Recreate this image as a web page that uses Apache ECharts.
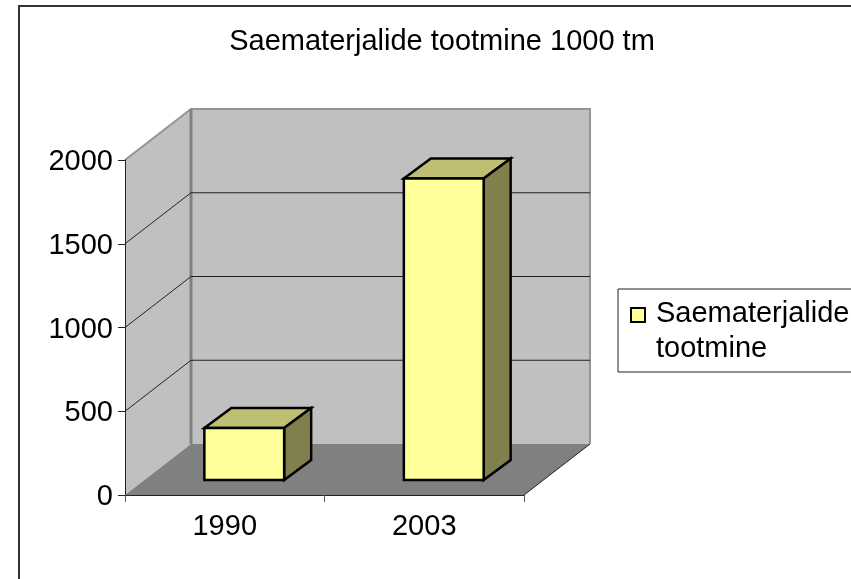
<!DOCTYPE html>
<html>
<head>
<meta charset="utf-8">
<style>
  html, body { margin: 0; padding: 0; background: #fff; }
  #main { width: 851px; height: 579px; }
</style>
<script src="https://cdn.jsdelivr.net/npm/echarts@6/dist/echarts.min.js"></script>
</head>
<body>
<div id="main"></div>
<script>
var categories = ["1990", "2003"];
var productionValues = [310, 1800];
var yTickValues = [500, 1000, 1500, 2000];
var seriesName = "Saematerjalide tootmine";
var chartTitle = "Saematerjalide tootmine 1000 tm";

// 3d look: depth of the whole box and of one bar, in pixels
var boxDepth = [66, -51];
var barShift = [19.5, -15];
var barDepth = [27, -20];
var fontName = '"Liberation Sans", Arial, sans-serif';

function poly(points, fill, stroke, lineWidth) {
  return {
    type: "polygon",
    shape: { points: points },
    style: { fill: fill, stroke: stroke || null, lineWidth: lineWidth || 0, lineJoin: "miter" },
  };
}

function line(points, stroke, lineWidth) {
  return {
    type: "polyline",
    shape: { points: points },
    style: { fill: null, stroke: stroke, lineWidth: lineWidth },
  };
}

// side wall, back wall and floor
function renderWalls(params, api) {
  var c = params.coordSys;
  var dx = boxDepth[0], dy = boxDepth[1];
  var l = c.x, r = c.x + c.width, t = c.y, b = c.y + c.height;
  return {
    type: "group",
    children: [
      poly([[l + dx, t + dy], [r + dx, t + dy], [r + dx, b + dy], [l + dx, b + dy]], "#C0C0C0"),
      poly([[l, t], [l + dx, t + dy], [l + dx, b + dy], [l, b]], "#C0C0C0"),
      poly([[l, b], [l + dx, b + dy], [r + dx, b + dy], [r, b]], "#808080"),
      line([[l, t], [l + dx, t + dy], [r + dx, t + dy], [r + dx, b + dy]], "#949494", 2),
      line([[l + dx, t + dy], [l + dx, b + dy]], "#808080", 3),
      line([[r + dx, b + dy], [r, b]], "#222", 1),
    ],
  };
}

function renderGridLine(params, api) {
  var c = params.coordSys;
  var y = api.coord([0, api.value(0)])[1];
  if (api.value(0) >= 2000) return null;
  return line(
    [[c.x, y], [c.x + boxDepth[0], y + boxDepth[1]], [c.x + c.width + boxDepth[0], y + boxDepth[1]]],
    "#222", 1
  );
}

function renderBar(params, api) {
  var top = api.coord([api.value(0), api.value(1)]);
  var bottom = api.coord([api.value(0), 0]);
  var w = api.size([1, 0])[0] * 0.4;
  var x0 = top[0] - w / 2 + barShift[0], x1 = x0 + w;
  var y0 = top[1] + barShift[1], y1 = bottom[1] + barShift[1];
  var dx = barDepth[0], dy = barDepth[1];
  return {
    type: "group",
    children: [
      poly([[x0, y0], [x0 + dx, y0 + dy], [x1 + dx, y0 + dy], [x1, y0]], "#BFBF73", "#000", 2.5),
      poly([[x1, y0], [x1 + dx, y0 + dy], [x1 + dx, y1 + dy], [x1, y1]], "#80804D", "#000", 2.5),
      poly([[x0, y0], [x1, y0], [x1, y1], [x0, y1]], "#FFFF99", "#000", 2.5),
    ],
  };
}

var chart = echarts.init(document.getElementById("main"));
chart.setOption({
  animation: false,
  backgroundColor: "#fff",
  textStyle: { fontFamily: fontName },
  title: {
    text: chartTitle,
    left: 437,
    top: 22,
    textAlign: "center",
    textStyle: { color: "#000", fontSize: 29, fontWeight: "normal", fontFamily: fontName },
  },
  graphic: [
    {
      type: "rect",
      z: -1,
      shape: { x: 19, y: 6, width: 900, height: 700 },
      style: { fill: "none", stroke: "#333", lineWidth: 2 },
    },
  ],
  legend: {
    left: 618,
    top: 289,
    orient: "vertical",
    padding: [7, 14, 6, 12],
    backgroundColor: "#fff",
    borderColor: "#222",
    borderWidth: 1,
    borderRadius: 0,
    itemWidth: 20,
    itemHeight: 46,
    itemGap: 0,
    data: [
      {
        name: seriesName,
        icon: "path://M0 0H14V14H0Z M20 46H20",
        itemStyle: { color: "#FFFF99", borderColor: "#000", borderWidth: 2 },
      },
    ],
    formatter: function () {
      return "Saematerjalide\ntootmine";
    },
    textStyle: { color: "#000", fontSize: 29, lineHeight: 35, fontFamily: fontName },
  },
  grid: { left: 125, right: 327, top: 160, bottom: 84 },
  xAxis: {
    type: "category",
    data: categories,
    axisLine: { lineStyle: { color: "#222", width: 1 } },
    axisTick: { show: true, length: 7, lineStyle: { color: "#555", width: 1 } },
    axisLabel: { color: "#000", fontSize: 29, margin: 17, fontFamily: fontName },
    splitLine: { show: false },
  },
  yAxis: {
    type: "value",
    min: 0,
    max: 2000,
    interval: 500,
    axisLine: { show: true, lineStyle: { color: "#222", width: 1 } },
    axisTick: { show: true, length: 7, lineStyle: { color: "#222", width: 1 } },
    axisLabel: {
      margin: 12,
      formatter: function (v) { return "{n|" + v + "}"; },
      rich: {
        n: { color: "#000", fontSize: 29, fontFamily: fontName, padding: [4, 0, 0, 0] },
      },
    },
    splitLine: { show: false },
  },
  series: [
    {
      name: "walls",
      type: "custom",
      z: 0,
      silent: true,
      clip: false,
      renderItem: renderWalls,
      data: [[0]],
      encode: { x: 0 },
    },
    {
      name: "gridlines",
      type: "custom",
      z: 1,
      silent: true,
      clip: false,
      renderItem: renderGridLine,
      data: yTickValues.map(function (v) { return [v]; }),
      encode: { y: 0 },
    },
    {
      name: seriesName,
      type: "custom",
      z: 2,
      clip: false,
      renderItem: renderBar,
      data: productionValues.map(function (v, i) { return [i, v]; }),
      encode: { x: 0, y: 1 },
      itemStyle: { color: "#FFFF99" },
    },
  ],
});
</script>
</body>
</html>
